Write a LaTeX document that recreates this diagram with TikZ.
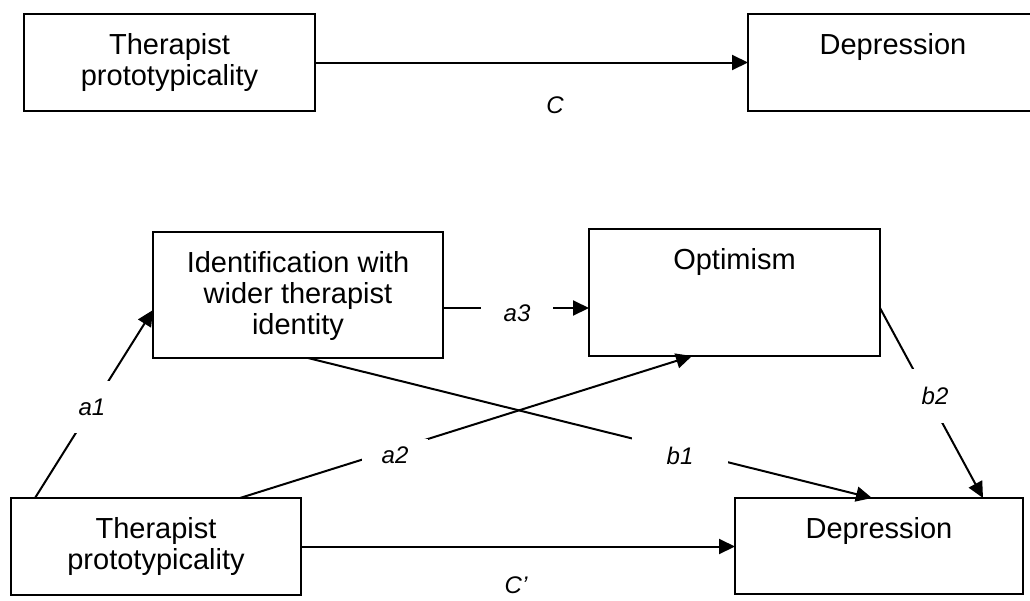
\documentclass[tikz,border=0pt]{standalone}
\usepackage{fontspec}
\setmainfont{Liberation Sans}
\usepackage{tikz}
\usetikzlibrary{arrows.meta,positioning,calc}

\begin{document}
\begin{tikzpicture}[x=1pt,y=-1pt,
  varbox/.style={draw,line width=1.7pt,inner sep=0pt,outer sep=0pt},
  vartext/.style={font=\fontsize{29}{31}\selectfont,align=center,inner sep=0pt,outer sep=0pt},
  pathline/.style={line width=2pt},
  pathtip/.style={pathline,-{Triangle[length=16pt,width=15pt]}},
  coef/.style={font=\fontsize{24}{26}\selectfont\itshape,inner sep=0pt},
  gap/.style={fill=white}]
\useasboundingbox (0,0) rectangle (1030,600);

\node[varbox,minimum width=291pt,minimum height=97pt] (proto1) at (169.5,62.5) {};
\node[varbox,minimum width=290pt,minimum height=97pt] (dep1) at (893,62.5) {};
\node[varbox,minimum width=290pt,minimum height=126pt] (ident) at (298,295) {};
\node[varbox,minimum width=291pt,minimum height=127pt] (optim) at (734.5,292.5) {};
\node[varbox,minimum width=290pt,minimum height=97pt] (proto2) at (156,546.5) {};
\node[varbox,minimum width=288pt,minimum height=96pt] (dep2) at (879,546) {};

\node[vartext,anchor=north,below=19.5pt of proto1.north] (proto1txt) {Therapist\\prototypicality};
\node[vartext,anchor=north,below=19.5pt of dep1.north] (dep1txt) {Depression};
\node[vartext,anchor=north,below=19.5pt of ident.north] (identtxt) {Identification with\\wider therapist\\identity};
\node[vartext,anchor=north,below=19.5pt of optim.north] (optimtxt) {Optimism};
\node[vartext,anchor=north,below=19.5pt of proto2.north] (proto2txt) {Therapist\\prototypicality};
\node[vartext,anchor=north,below=19.5pt of dep2.north] (dep2txt) {Depression};

\draw[pathtip] (proto1.east) -- (dep1.west);
\draw[pathtip] ([xshift=24pt]proto2.north west) -- ([yshift=-15pt]ident.west);
\draw[pathtip] ([xshift=84pt]proto2.north) -- ([xshift=-42.5pt]optim.south);
\draw[pathtip] ([yshift=-13pt]ident.east) -- ([yshift=-13pt]ident.east -| optim.west);
\draw[pathtip] ([xshift=10pt]ident.south) -- ([xshift=-7pt]dep2.north);
\draw[pathtip] ([yshift=-15.5pt]optim.east) -- ([xshift=104pt]dep2.north);
\draw[pathtip] (proto2.east) -- (proto2.east -| dep2.west);

\node[coef] (lc) at (555,105) {C};
\node[coef] (lcp) at (516,585) {C’};
\node[coef,gap,inner xsep=7pt,inner ysep=18pt] (la1) at (92,407) {a1};
\node[coef,gap,inner xsep=20pt,inner ysep=8pt] (la2) at (395,455) {a2};
\node[coef,gap,inner xsep=23pt,inner ysep=2pt] (la3) at (517,313) {a3};
\node[coef,gap,inner xsep=35pt,inner ysep=10pt] (lb1) at (680,456) {b1};
\node[coef,gap,inner xsep=10pt,inner ysep=18pt] (lb2) at (935,396) {b2};
\end{tikzpicture}
\end{document}
